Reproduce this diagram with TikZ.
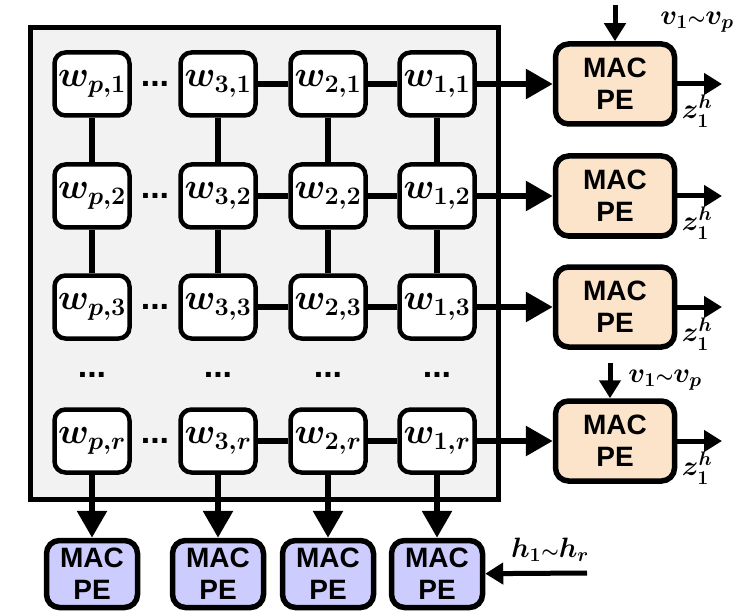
\RequirePackage{fix-cm}
\documentclass[tikz,border=0pt]{standalone}
\usepackage{amsmath,amssymb}
\usepackage{fontspec}
\setsansfont{Liberation Sans}
\definecolor{gridgray}{HTML}{F2F2F2}
\definecolor{peorange}{HTML}{FCE4CA}
\definecolor{pepurple}{HTML}{CCCCFF}
\usetikzlibrary{positioning,arrows.meta}

\begin{document}
\begin{tikzpicture}[
  x=1pt, y=1pt,
  wbox/.style={rectangle, rounded corners=11pt, draw, line width=4.5pt,
               fill=white, minimum width=75pt, minimum height=63pt,
               inner sep=0pt, font=\fontsize{36}{40}\selectfont\boldmath},
  pebox/.style={rectangle, rounded corners=13pt, draw, line width=5.5pt,
                align=center, inner sep=0pt,
                font=\sffamily\bfseries\fontsize{28}{32}\selectfont},
  link/.style={line width=6pt},
  arr/.style={-{Triangle[length=27pt,width=29pt]}, line width=6pt},
  sarr/.style={-{Triangle[length=18pt,width=21pt]}, line width=5pt},
  lbl/.style={inner sep=0pt, font=\fontsize{28}{32}\selectfont\boldmath},
  dots/.style={inner sep=0pt, font=\sffamily\bfseries\fontsize{34}{36}\selectfont}
]
  \useasboundingbox (0,0) rectangle (754,614);

  % weight array frame
  \node[draw, line width=5pt, fill=gridgray, minimum width=468pt,
        minimum height=472pt, inner sep=0pt] (array) at (264.5,350.5) {};

  % weights, columns p,3,2,1 and rows 1,2,3,r
  \node[wbox] (wp1) at (92,530)  {$w_{p,1}$};
  \node[wbox] (w31) at (218,530) {$w_{3,1}$};
  \node[wbox] (w21) at (328,530) {$w_{2,1}$};
  \node[wbox] (w11) at (437,530) {$w_{1,1}$};
  \node[wbox] (wp2) at (92,418)  {$w_{p,2}$};
  \node[wbox] (w32) at (218,418) {$w_{3,2}$};
  \node[wbox] (w22) at (328,418) {$w_{2,2}$};
  \node[wbox] (w12) at (437,418) {$w_{1,2}$};
  \node[wbox] (wp3) at (92,307)  {$w_{p,3}$};
  \node[wbox] (w33) at (218,307) {$w_{3,3}$};
  \node[wbox] (w23) at (328,307) {$w_{2,3}$};
  \node[wbox] (w13) at (437,307) {$w_{1,3}$};
  \node[wbox] (wpr) at (92,173)  {$w_{p,r}$};
  \node[wbox] (w3r) at (218,173) {$w_{3,r}$};
  \node[wbox] (w2r) at (328,173) {$w_{2,r}$};
  \node[wbox] (w1r) at (437,173) {$w_{1,r}$};

  % skipped columns and rows
  \node[dots] (hd1) at (155,530) {...};
  \node[dots] (hd2) at (155,418) {...};
  \node[dots] (hd3) at (155,307) {...};
  \node[dots] (hdr) at (155,173) {...};
  \node[dots] (vdp) at (92,239)  {...};
  \node[dots] (vd3) at (218,239) {...};
  \node[dots] (vd2) at (328,239) {...};
  \node[dots] (vd1) at (437,239) {...};

  % MAC PEs on the right
  \node[pebox, fill=peorange, minimum width=119pt, minimum height=80pt]
    (pe1) at (615,530) {MAC\\PE};
  \node[pebox, fill=peorange, minimum width=119pt, minimum height=80pt]
    (pe2) at (615,418) {MAC\\PE};
  \node[pebox, fill=peorange, minimum width=119pt, minimum height=80pt]
    (pe3) at (615,307) {MAC\\PE};
  \node[pebox, fill=peorange, minimum width=119pt, minimum height=80pt]
    (per) at (615,173) {MAC\\PE};

  % MAC PEs below
  \node[pebox, fill=pepurple, minimum width=91pt, minimum height=67pt]
    (qp) at (92,40)  {MAC\\PE};
  \node[pebox, fill=pepurple, minimum width=91pt, minimum height=67pt]
    (q3) at (218,40) {MAC\\PE};
  \node[pebox, fill=pepurple, minimum width=91pt, minimum height=67pt]
    (q2) at (328,40) {MAC\\PE};
  \node[pebox, fill=pepurple, minimum width=91pt, minimum height=67pt]
    (q1) at (437,40) {MAC\\PE};

  % links inside the array
  \draw[link] (w31) -- (w21);
  \draw[link] (w21) -- (w11);
  \draw[link] (w32) -- (w22);
  \draw[link] (w22) -- (w12);
  \draw[link] (w33) -- (w23);
  \draw[link] (w23) -- (w13);
  \draw[link] (w3r) -- (w2r);
  \draw[link] (w2r) -- (w1r);
  \draw[link] (wp1) -- (wp2);
  \draw[link] (wp2) -- (wp3);
  \draw[link] (w31) -- (w32);
  \draw[link] (w32) -- (w33);
  \draw[link] (w21) -- (w22);
  \draw[link] (w22) -- (w23);
  \draw[link] (w11) -- (w12);
  \draw[link] (w12) -- (w13);

  % outputs of the array
  \draw[arr] (w11) -- (pe1);
  \draw[arr] (w12) -- (pe2);
  \draw[arr] (w13) -- (pe3);
  \draw[arr] (w1r) -- (per);
  \draw[arr] (wpr) -- (qp);
  \draw[arr] (w3r) -- (q3);
  \draw[arr] (w2r) -- (q2);
  \draw[arr] (w1r) -- (q1);

  % inputs and results
  \coordinate (vin1) at (615,609);
  \coordinate (vinr) at (610,251);
  \coordinate (hin)  at (587,41);
  \coordinate (z1)   at (722,530);
  \coordinate (z2)   at (722,418);
  \coordinate (z3)   at (722,307);
  \coordinate (zr)   at (722,173);
  \draw[sarr] (vin1) -- (pe1.north);
  \draw[sarr] (vinr) -- (vinr |- per.north);
  \draw[sarr] (hin) -- (q1);
  \draw[sarr] (pe1) -- (z1);
  \draw[sarr] (pe2) -- (z2);
  \draw[sarr] (pe3) -- (z3);
  \draw[sarr] (per) -- (zr);

  \node[lbl] (vlab1) at (697,592) {$v_1{\scriptstyle\sim}v_p$};
  \node[lbl] (vlabr) at (665,234) {$v_1{\scriptstyle\sim}v_p$};
  \node[lbl] (hlab)  at (550,64)  {$h_1{\scriptstyle\sim}h_r$};
  \node[lbl] (zlab1) at (697,503) {$z_1^h$};
  \node[lbl] (zlab2) at (697,391) {$z_1^h$};
  \node[lbl] (zlab3) at (697,280) {$z_1^h$};
  \node[lbl] (zlabr) at (697,146) {$z_1^h$};
\end{tikzpicture}
\end{document}
